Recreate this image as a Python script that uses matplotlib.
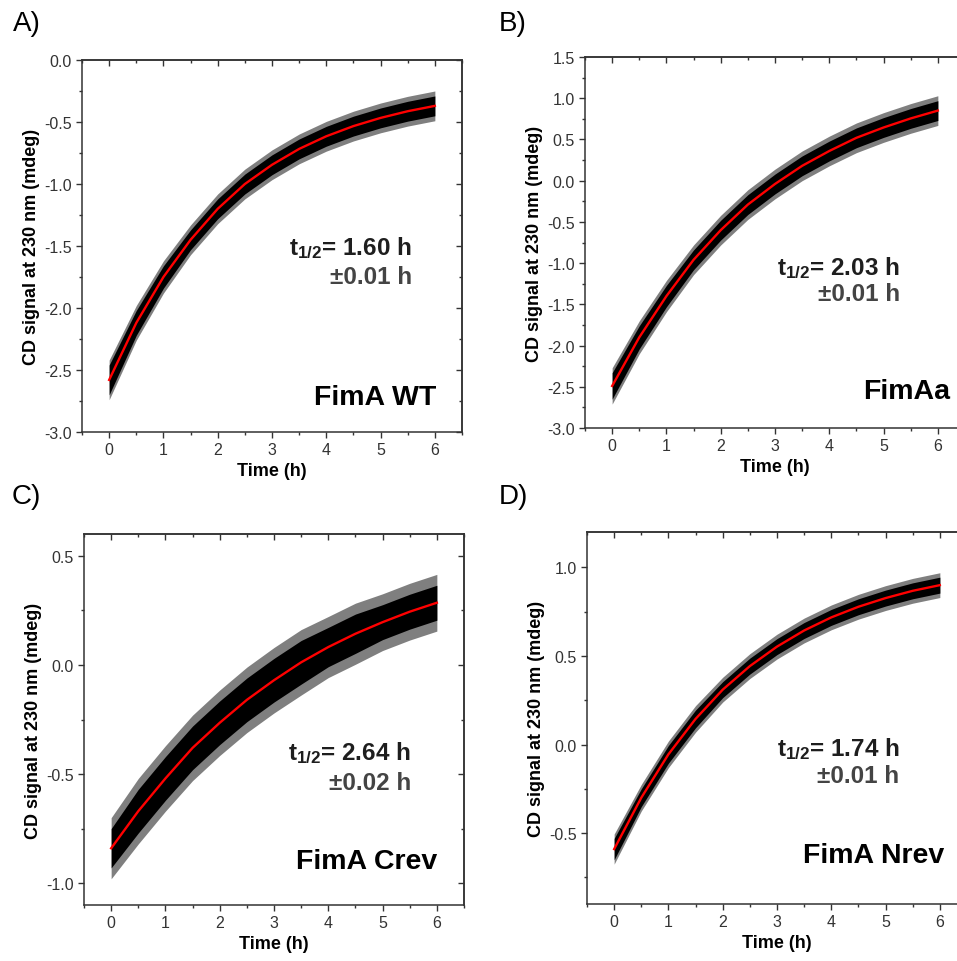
import matplotlib
matplotlib.use("Agg")
import matplotlib.pyplot as plt
from matplotlib.ticker import MultipleLocator
import numpy as np

plt.rcParams['font.family'] = ['Liberation Sans', 'DejaVu Sans']
plt.rcParams['axes.unicode_minus'] = False
plt.rcParams['mathtext.fontset'] = 'custom'
plt.rcParams['mathtext.rm'] = 'Liberation Sans:bold'
plt.rcParams['mathtext.bf'] = 'Liberation Sans:bold'
plt.rcParams['mathtext.it'] = 'Liberation Sans:bold'

# ---------------- data ----------------
time_h = [0, 0.5, 1, 1.5, 2, 2.5, 3, 3.5, 4, 4.5, 5, 5.5, 6]

fit_wt   = [-2.58, -2.12, -1.75, -1.45, -1.20, -1.00, -0.845, -0.717, -0.615, -0.533, -0.467, -0.413, -0.370]
fit_aa   = [-2.49, -1.90, -1.40, -0.96, -0.60, -0.29, -0.04, 0.18, 0.36, 0.52, 0.645, 0.755, 0.850]
fit_crev = [-0.84, -0.67, -0.52, -0.38, -0.265, -0.16, -0.07, 0.012, 0.082, 0.143, 0.196, 0.244, 0.285]
fit_nrev = [-0.59, -0.30, -0.055, 0.145, 0.31, 0.443, 0.553, 0.644, 0.718, 0.778, 0.827, 0.868, 0.900]

# half-width of the dense data cloud around the fit
spread_wt   = [0.12, 0.10, 0.09, 0.08, 0.08, 0.08, 0.08, 0.08, 0.08, 0.08, 0.08, 0.08, 0.08]
spread_aa   = [0.16, 0.14, 0.13, 0.12, 0.12, 0.12, 0.12, 0.12, 0.12, 0.12, 0.12, 0.12, 0.12]
spread_crev = [0.09, 0.10, 0.10, 0.10, 0.10, 0.10, 0.10, 0.10, 0.09, 0.09, 0.08, 0.08, 0.08]
spread_nrev = [0.06, 0.05, 0.05, 0.05, 0.045, 0.045, 0.045, 0.045, 0.045, 0.045, 0.045, 0.045, 0.045]
# extra width of the sparse outer scatter
outer_wt, outer_aa, outer_crev, outer_nrev = 0.04, 0.06, 0.05, 0.025

names = ["FimA WT", "FimAa", "FimA Crev", "FimA Nrev"]
letters = ["A)", "B)", "C)", "D)"]
t_half = ["1.60", "2.03", "2.64", "1.74"]
t_err = ["0.01", "0.01", "0.02", "0.01"]

ylims = [(-3.0, 0.0), (-3.0, 1.5), (-1.1, 0.6), (-0.9, 1.2)]
ymajor = [0.5, 0.5, 0.5, 0.5]

fits = [fit_wt, fit_aa, fit_crev, fit_nrev]
spreads = [spread_wt, spread_aa, spread_crev, spread_nrev]
outers = [outer_wt, outer_aa, outer_crev, outer_nrev]

# ---------------- layout ----------------
W, H = 957, 962
fig = plt.figure(figsize=(W / 100, H / 100), dpi=100)

# (left, top, width, height) in pixels
boxes = [(82, 61, 380, 372), (585, 58, 380, 371), (84, 535, 380, 371), (587, 533, 380, 372)]
# annotation positions in axes fraction (right edge x, center y)
ann_t = [(0.868, 0.497), (0.829, 0.435), (0.861, 0.412), (0.822, 0.419)]
ann_e = [(0.868, 0.419), (0.829, 0.362), (0.861, 0.329), (0.822, 0.346)]
ann_n = [(0.932, 0.094), (0.961, 0.099), (0.929, 0.119), (0.940, 0.133)]
letter_pos = [(13, 24), (499, 24), (12, 497), (499, 497)]

spine_c = "#333333"
t = np.array(time_h)

for i in range(4):
    l, tp, w, h = boxes[i]
    ax = fig.add_axes([l / W, 1 - (tp + h) / H, w / W, h / H])
    f = np.array(fits[i])
    s = np.array(spreads[i])
    o = outers[i]
    ax.fill_between(t, f - s - o, f + s + o, color="black", alpha=0.5, lw=0)
    ax.fill_between(t, f - s, f + s, color="black", lw=0)
    ax.plot(t, f, color="#ff0000", lw=1.7)

    ax.set_xlim(-0.5, 6.5)
    ax.set_ylim(*ylims[i])
    ax.xaxis.set_major_locator(MultipleLocator(1))
    ax.xaxis.set_minor_locator(MultipleLocator(0.5))
    ax.yaxis.set_major_locator(MultipleLocator(ymajor[i]))
    ax.yaxis.set_minor_locator(MultipleLocator(0.25))
    ax.yaxis.set_major_formatter(matplotlib.ticker.FormatStrFormatter('%.1f'))
    ax.tick_params(which='both', direction='out', colors=spine_c, labelsize=11.5, width=1.0)
    ax.tick_params(which='major', length=4)
    ax.tick_params(which='minor', length=2.5)
    for sp in ax.spines.values():
        sp.set_color(spine_c)
        sp.set_linewidth(1.1)

    secx = ax.secondary_xaxis('top')
    secx.xaxis.set_major_locator(MultipleLocator(1))
    secx.xaxis.set_minor_locator(MultipleLocator(0.5))
    secx.tick_params(which='both', direction='in', labeltop=False, colors=spine_c, width=1.0)
    secx.tick_params(which='major', length=4)
    secx.tick_params(which='minor', length=2.5)
    secx.spines['top'].set_color(spine_c)
    secx.spines['top'].set_linewidth(1.1)
    secy = ax.secondary_yaxis('right')
    secy.yaxis.set_major_locator(MultipleLocator(ymajor[i]))
    secy.yaxis.set_minor_locator(MultipleLocator(0.25))
    secy.tick_params(which='both', direction='in', labelright=False, colors=spine_c, width=1.0)
    secy.tick_params(which='major', length=4)
    secy.tick_params(which='minor', length=2.5)
    secy.spines['right'].set_color(spine_c)
    secy.spines['right'].set_linewidth(1.1)

    ax.set_xlabel("Time (h)", fontsize=13, fontweight='bold', labelpad=3)
    ax.set_ylabel("CD signal at 230 nm (mdeg)", fontsize=13, fontweight='bold', labelpad=3)

    ax.text(*ann_t[i], r"t$_{\mathbf{1/2}}$= " + t_half[i] + " h", transform=ax.transAxes,
            ha='right', va='center', fontsize=17.5, fontweight='bold', color="#1e1e1e")
    ax.text(*ann_e[i], "\u00b1" + t_err[i] + " h", transform=ax.transAxes,
            ha='right', va='center', fontsize=17.5, fontweight='bold', color="#444444")
    ax.text(*ann_n[i], names[i], transform=ax.transAxes,
            ha='right', va='center', fontsize=20.5, fontweight='bold', color="black")

    lx, ly = letter_pos[i]
    fig.text(lx / W, 1 - ly / H, letters[i], ha='left', va='center', fontsize=20, color="black")

fig.savefig("out.png", dpi=100)
